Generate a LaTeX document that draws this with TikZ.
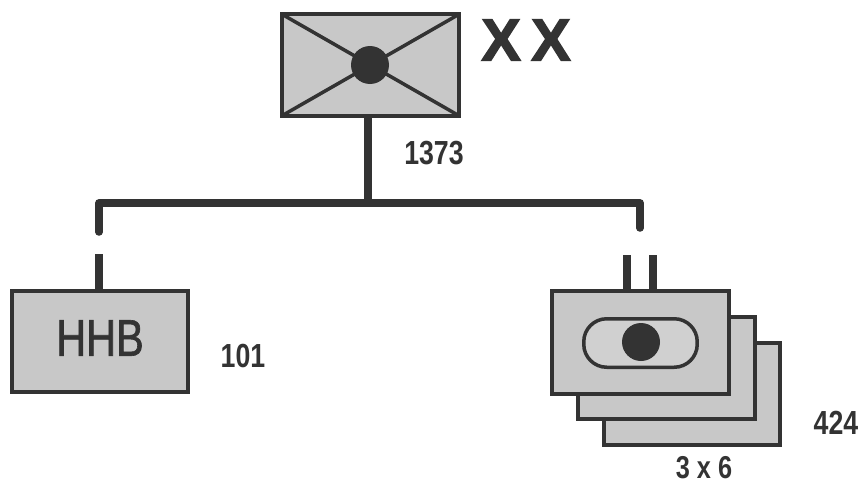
\documentclass[tikz,border=0pt]{standalone}
\usepackage{fontspec}
\setmainfont{Liberation Sans}
\newfontfamily\narrowfont[FakeStretch=0.8]{Liberation Sans}
\newfontfamily\heavynarrowfont[FakeStretch=0.8,FakeBold=1.2]{Liberation Sans}
\newfontfamily\heavyfont[FakeBold=2.2]{Liberation Sans Bold}
\usetikzlibrary{positioning, calc}

\definecolor{inkgray}{HTML}{333333}
\definecolor{boxgray}{HTML}{C8C8C8}

\tikzset{
    boxed/.style={draw=inkgray, fill=boxgray, line width=0.08cm, inner sep=0pt, outer sep=0pt, minimum width=3.54cm, minimum height=2.06cm},
    dot/.style={circle, fill=inkgray, inner sep=0pt, minimum size=0.76cm},
    link/.style={draw=inkgray, line width=0.17cm},
    flap/.style={draw=inkgray, line width=0.07cm},
    count/.style={text=inkgray, font=\narrowfont\bfseries\fontsize{19}{19}\selectfont, inner sep=0pt},
}

\begin{document}
\begin{tikzpicture}[x=0.02cm, y=-0.02cm]
    \useasboundingbox (0,0) rectangle (862,484);

    % Nodes
    \node[boxed, minimum width=3.56cm, minimum height=2.04cm] (envelope) at (370.5,65) {};
    \draw[flap] (envelope.north west) -- (envelope.center);
    \draw[flap] (envelope.north east) -- (envelope.center);
    \draw[flap] (envelope.south west) -- (envelope.center);
    \draw[flap] (envelope.south east) -- (envelope.center);
    \node[dot] (envdot) at (370,65) {};
    \node[text=inkgray, font=\heavyfont\fontsize{34}{34}\selectfont, inner sep=0pt] (marks) at (526,40) {X\hspace{0.2cm}X};
    \node[count] (total) at (434,153) {1373};

    \node[boxed, minimum width=3.52cm, minimum height=2.02cm] (hhb) at (100,341.5) {};
    \node[text=inkgray, font=\heavynarrowfont\fontsize{29.5}{29.5}\selectfont, inner sep=0pt] (hhbtext) at (100,338) {HHB};
    \node[count] (hhbcount) at (243,356) {101};

    \node[boxed] (cardback) at (692,394) {};
    \node[boxed] (cardmid) at (666.5,368) {};
    \node[boxed] (cardfront) at (640.5,342.5) {};
    \node[draw=inkgray, fill=boxgray!85!white, line width=0.07cm, rounded corners=0.46cm, inner sep=0pt, outer sep=0pt, minimum width=2.27cm, minimum height=0.97cm] (slot) at (640.5,343) {};
    \node[dot] (slotdot) at (641,342) {};
    \node[count] (cardcount) at (836,423) {424};
    \node[count, font=\narrowfont\bfseries\fontsize{18}{18}\selectfont] (cardsize) at (704,468) {3 x 6};

    % Free ends
    \coordinate (stemfoot) at (368,203);
    \coordinate (barleft) at (99,203);
    \coordinate (barright) at (640,203);
    \coordinate (endleft) at (99,232);
    \coordinate (endright) at (640,228);
    \coordinate (stubhhb) at (99,254);
    \coordinate (stuba) at (627,255);
    \coordinate (stubb) at (653,255);

    % Connectors
    \draw[link] (stemfoot |- envelope.south) -- (stemfoot);
    \draw[link, line width=0.15cm, line cap=round, line join=round] (endleft) -- (barleft) -- (barright) -- (endright);
    \draw[link] (stubhhb) -- (stubhhb |- hhb.north);
    \draw[link] (stuba) -- (stuba |- cardfront.north);
    \draw[link] (stubb) -- (stubb |- cardfront.north);
\end{tikzpicture}
\end{document}
